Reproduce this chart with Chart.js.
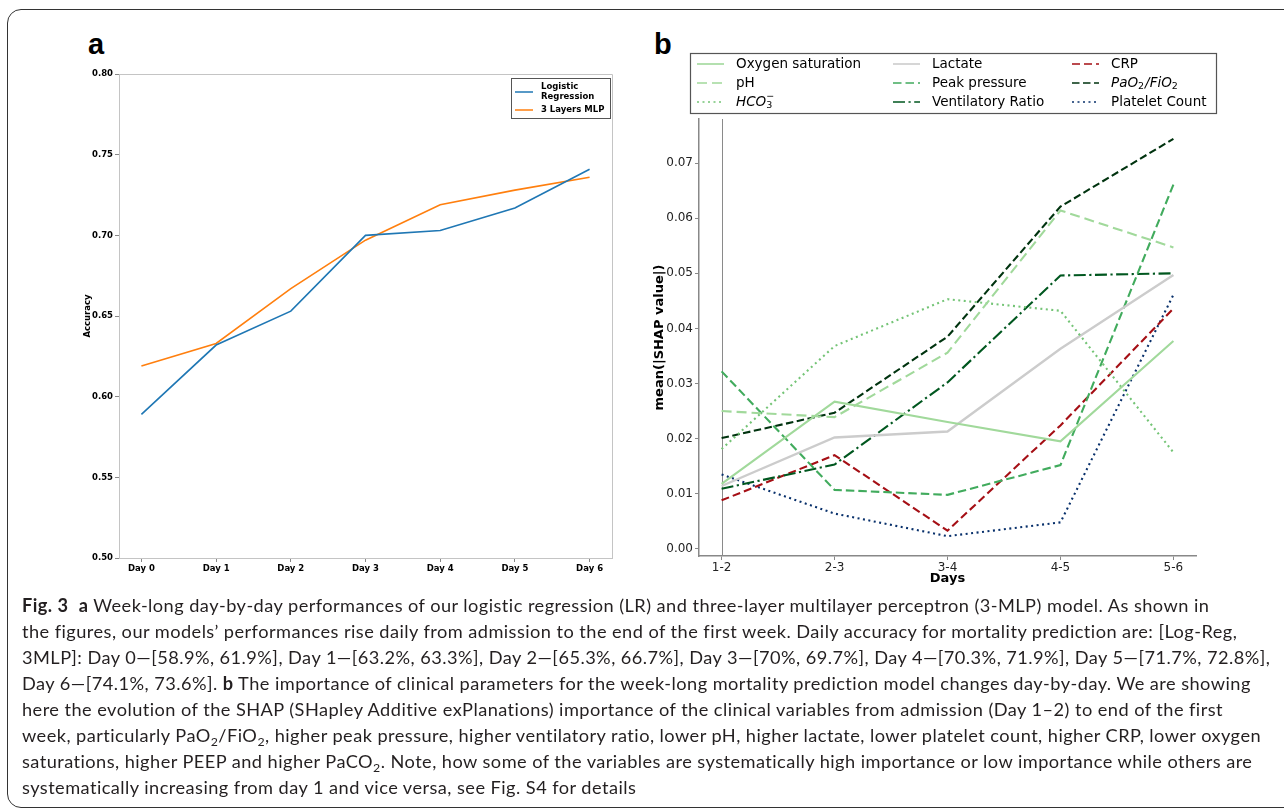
<!DOCTYPE html>
<html>
<head>
<meta charset="utf-8">
<script src="https://cdn.jsdelivr.net/npm/chart.js@4.4.1/dist/chart.umd.min.js"></script>
<style>
  body { margin: 0; background: #fff; width: 1284px; height: 812px; overflow: hidden; position: relative; }
  .frame { position: absolute; left: 7px; top: 9px; width: 1300px; height: 797px; border: 1px solid #333; border-radius: 14px; }
  .panel-tag { position: absolute; font-family: "Liberation Sans", Arial, sans-serif; font-weight: bold; font-size: 29px; color: #000; }
  canvas { position: absolute; }
  .caption { position: absolute; left: 22px; top: 592px; font-family: Lato, "Open Sans", sans-serif; font-size: 18.2px; letter-spacing: 0.45px; line-height: 26px; color: #231f20; }
  .caption div { white-space: nowrap; }
  .caption sub { font-size: 0.68em; vertical-align: -0.3em; line-height: 0; }
</style>
</head>
<body>
<div class="frame"></div>
<div class="panel-tag" style="left:88px; top:28px;">a</div>
<div class="panel-tag" style="left:654px; top:28px;">b</div>
<canvas id="chartA" width="560" height="520" style="left:60px; top:66px;"></canvas>
<canvas id="chartB" width="590" height="548" style="left:630px; top:48px;"></canvas>

<div class="caption">
  <div><b>Fig. 3</b>&nbsp; <b>a</b> Week-long day-by-day performances of our logistic regression (LR) and three-layer multilayer perceptron (3-MLP) model. As shown in</div>
  <div>the figures, our models’ performances rise daily from admission to the end of the first week. Daily accuracy for mortality prediction are: [Log-Reg,</div>
  <div>3MLP]: Day 0—[58.9%, 61.9%], Day 1—[63.2%, 63.3%], Day 2—[65.3%, 66.7%], Day 3—[70%, 69.7%], Day 4—[70.3%, 71.9%], Day 5—[71.7%, 72.8%],</div>
  <div>Day 6—[74.1%, 73.6%]. <b>b</b> The importance of clinical parameters for the week-long mortality prediction model changes day-by-day. We are showing</div>
  <div>here the evolution of the SHAP (SHapley Additive exPlanations) importance of the clinical variables from admission (Day 1–2) to end of the first</div>
  <div>week, particularly PaO<sub>2</sub>/FiO<sub>2</sub>, higher peak pressure, higher ventilatory ratio, lower pH, higher lactate, lower platelet count, higher CRP, lower oxygen</div>
  <div>saturations, higher PEEP and higher PaCO<sub>2</sub>. Note, how some of the variables are systematically high importance or low importance while others are</div>
  <div>systematically increasing from day 1 and vice versa, see Fig. S4 for details</div>
</div>

<script>
// panel a data
const days = ['Day 0', 'Day 1', 'Day 2', 'Day 3', 'Day 4', 'Day 5', 'Day 6'];
const accLR = [0.589, 0.632, 0.653, 0.700, 0.703, 0.717, 0.741];
const accMLP = [0.619, 0.633, 0.667, 0.697, 0.719, 0.728, 0.736];
const accTicks = [0.50, 0.55, 0.60, 0.65, 0.70, 0.75, 0.80];

// panel b data
const dayPairs = ['1-2', '2-3', '3-4', '4-5', '5-6'];
const oxygenSat = [0.0118, 0.0267, 0.0230, 0.0195, 0.0377];
const phVals = [0.0250, 0.0239, 0.0356, 0.0614, 0.0547];
const hco3 = [0.0181, 0.0368, 0.0453, 0.0432, 0.0175];
const lactate = [0.0114, 0.0202, 0.0213, 0.0363, 0.0497];
const peakPressure = [0.0322, 0.0107, 0.0098, 0.0152, 0.0661];
const ventRatio = [0.0109, 0.0153, 0.0302, 0.0496, 0.0500];
const crp = [0.0088, 0.0170, 0.0033, 0.0224, 0.0436];
const pafi = [0.0201, 0.0247, 0.0385, 0.0621, 0.0744];
const platelets = [0.0135, 0.0064, 0.0023, 0.0048, 0.0461];
const shapTicks = [0.00, 0.01, 0.02, 0.03, 0.04, 0.05, 0.06, 0.07];

const toPoints = arr => arr.map((v, i) => ({ x: i, y: v }));

const boldSmall = { family: 'DejaVu Sans', size: 8.5, weight: 'bold' };

// box on top/right of the chart area (matplotlib frame)
const framePlugin = {
  id: 'frame',
  beforeDatasetsDraw(chart, args, opts) {
    if (!opts.show) return;
    const { ctx, chartArea: a } = chart;
    ctx.save();
    ctx.strokeStyle = opts.color;
    ctx.lineWidth = 1;
    ctx.beginPath();
    ctx.moveTo(a.left, a.top + 0.5);
    ctx.lineTo(a.right + 0.5, a.top + 0.5);
    ctx.lineTo(a.right + 0.5, a.bottom);
    ctx.stroke();
    ctx.restore();
  }
};

const legendA = {
  id: 'legendA',
  afterDraw(chart) {
    const { ctx, chartArea: a } = chart;
    const w = 99, h = 40;
    const x = a.right - w - 2, y = a.top + 4;
    ctx.save();
    ctx.fillStyle = '#fff';
    ctx.fillRect(x, y, w, h);
    ctx.strokeStyle = '#555';
    ctx.lineWidth = 1;
    ctx.strokeRect(x + 0.5, y + 0.5, w, h);
    ctx.font = 'bold 8.5px "DejaVu Sans"';
    ctx.textBaseline = 'middle';
    ctx.fillStyle = '#000';
    const ds = chart.data.datasets;
    const rows = [[y + 14, ['Logistic', 'Regression']], [y + 32, ['3 Layers MLP']]];
    rows.forEach((r, i) => {
      ctx.strokeStyle = ds[i].borderColor;
      ctx.lineWidth = 1.5;
      ctx.beginPath();
      ctx.moveTo(x + 4, r[0]);
      ctx.lineTo(x + 22, r[0]);
      ctx.stroke();
      const lines = r[1];
      lines.forEach((t, k) => {
        ctx.fillText(t, x + 30, r[0] + (k - (lines.length - 1) / 2) * 10.5);
      });
    });
    ctx.restore();
  }
};

new Chart(document.getElementById('chartA'), {
  type: 'line',
  data: {
    datasets: [
      { label: 'Logistic Regression', data: toPoints(accLR), borderColor: '#1f77b4', borderWidth: 1.6, pointRadius: 0, tension: 0 },
      { label: '3 Layers MLP', data: toPoints(accMLP), borderColor: '#ff7f0e', borderWidth: 1.6, pointRadius: 0, tension: 0 }
    ]
  },
  options: {
    responsive: false,
    animation: false,
    layout: { padding: { top: 8, right: 8, left: 0, bottom: 0 } },
    plugins: { legend: { display: false }, tooltip: { enabled: false }, frame: { show: true, color: '#c4c4c4' } },
    scales: {
      x: {
        type: 'linear', min: -0.3, max: 6.3,
        afterBuildTicks: s => { s.ticks = days.map((d, i) => ({ value: i })); },
        afterFit: s => { s.height = 28; },
        ticks: { callback: v => days[v], font: boldSmall, color: '#000', padding: 2, autoSkip: false, maxRotation: 0 },
        grid: { drawOnChartArea: false, tickLength: 4, color: '#888' },
        border: { color: '#c4c4c4' }
      },
      y: {
        min: 0.5, max: 0.8,
        afterBuildTicks: s => { s.ticks = accTicks.map(v => ({ value: v })); },
        afterFit: s => { s.width = 59; },
        ticks: { callback: v => v.toFixed(2), font: boldSmall, color: '#000', padding: 2 },
        grid: { drawOnChartArea: false, tickLength: 4, color: '#888' },
        border: { color: '#c4c4c4' },
        title: { display: true, text: 'Accuracy', font: boldSmall, color: '#000', padding: { top: 23, bottom: 0 } }
      }
    }
  },
  plugins: [framePlugin, legendA]
});

// panel b
const shapSeries = [
  { label: 'Oxygen saturation', data: oxygenSat, color: '#a1d99b', dash: [] },
  { label: 'pH', data: phVals, color: '#a1d99b', dash: [10, 5] },
  { label: 'HCO3-', data: hco3, color: '#74c476', dash: [2, 3.5] },
  { label: 'Lactate', data: lactate, color: '#cccccc', dash: [] },
  { label: 'Peak pressure', data: peakPressure, color: '#41ab5d', dash: [8.5, 4] },
  { label: 'Ventilatory Ratio', data: ventRatio, color: '#00571f', dash: [12, 3.5, 2.2, 3.5] },
  { label: 'CRP', data: crp, color: '#a50f15', dash: [8, 4] },
  { label: 'PaO2/FiO2', data: pafi, color: '#00330f', dash: [7.5, 3.5] },
  { label: 'Platelet Count', data: platelets, color: '#08306b', dash: [2, 3.5] }
];

// mathtext-like pieces for the legend
const richLabels = {
  'HCO3-': [{ t: 'HCO', it: true }, { t: '3', sub: true, sup: '\u2212' }],
  'PaO2/FiO2': [{ t: 'PaO', it: true }, { t: '2', sub: true }, { t: '/FiO', it: true }, { t: '2', sub: true }]
};

const vlinePlugin = {
  id: 'vline',
  beforeDatasetsDraw(chart) {
    const { ctx, chartArea: a, scales } = chart;
    const px = Math.round(scales.x.getPixelForValue(0)) + 0.5;
    ctx.save();
    ctx.strokeStyle = '#8a8a8a';
    ctx.lineWidth = 1;
    ctx.beginPath();
    ctx.moveTo(px, a.top);
    ctx.lineTo(px, a.bottom);
    ctx.stroke();
    ctx.restore();
  }
};

const legendB = {
  id: 'legendB',
  afterDraw(chart) {
    const { ctx } = chart;
    const bx = 60, by = 5, bw = 526, bh = 60;
    const cols = [67, 263, 442];
    const rows = [by + 11, by + 30, by + 49];
    ctx.save();
    ctx.strokeStyle = '#555';
    ctx.lineWidth = 1.2;
    ctx.strokeRect(bx + 0.5, by + 0.5, bw, bh);
    ctx.textBaseline = 'middle';
    chart.data.datasets.forEach((ds, i) => {
      const cx = cols[Math.floor(i / 3)], cy = rows[i % 3];
      ctx.strokeStyle = ds.borderColor;
      ctx.lineWidth = 1.6;
      ctx.setLineDash(ds.borderDash || []);
      ctx.beginPath();
      ctx.moveTo(cx, cy);
      ctx.lineTo(cx + 27, cy);
      ctx.stroke();
      ctx.setLineDash([]);
      ctx.fillStyle = '#000';
      let tx = cx + 39;
      const parts = richLabels[ds.label];
      if (!parts) {
        ctx.font = '13.5px "DejaVu Sans"';
        ctx.fillText(ds.label, tx, cy);
        return;
      }
      parts.forEach(p => {
        if (p.sub) {
          ctx.font = '9.5px "DejaVu Sans"';
          ctx.fillText(p.t, tx, cy + 4);
          let wsub = ctx.measureText(p.t).width;
          if (p.sup) {
            ctx.fillText(p.sup, tx, cy - 5);
            wsub = Math.max(wsub, ctx.measureText(p.sup).width);
          }
          tx += wsub + 1;
        } else {
          ctx.font = 'italic 13.5px "DejaVu Sans"';
          ctx.fillText(p.t, tx, cy);
          tx += ctx.measureText(p.t).width;
        }
      });
    });
    ctx.restore();
  }
};

const tickFontB = { family: 'DejaVu Sans', size: 12 };
const titleFontB = { family: 'DejaVu Sans', size: 13, weight: 'bold' };

new Chart(document.getElementById('chartB'), {
  type: 'line',
  data: {
    datasets: shapSeries.map(s => ({
      label: s.label,
      data: toPoints(s.data),
      borderColor: s.color,
      borderDash: s.dash,
      borderWidth: s.label === 'Lactate' ? 2.4 : 2.1,
      pointRadius: 0,
      tension: 0
    }))
  },
  options: {
    responsive: false,
    animation: false,
    layout: { padding: { top: 71, right: 24, left: 0, bottom: 0 } },
    plugins: { legend: { display: false }, tooltip: { enabled: false } },
    scales: {
      x: {
        type: 'linear', min: -0.2, max: 4.2,
        afterBuildTicks: s => { s.ticks = dayPairs.map((d, i) => ({ value: i })); },
        afterFit: s => { s.height = 40; },
        ticks: { callback: v => dayPairs[v], font: tickFontB, color: '#222', padding: 1, autoSkip: false, maxRotation: 0 },
        grid: { drawOnChartArea: false, tickLength: 4, color: '#888' },
        border: { color: '#888', width: 1.5 },
        title: { display: true, text: 'Days', font: titleFontB, color: '#000', padding: { top: 0, bottom: 10 } }
      },
      y: {
        min: -0.0013, max: 0.078,
        afterBuildTicks: s => { s.ticks = shapTicks.map(v => ({ value: v })); },
        afterFit: s => { s.width = 69; },
        ticks: { callback: v => v.toFixed(2), font: tickFontB, color: '#222', padding: 2 },
        grid: { drawOnChartArea: false, tickLength: 4, color: '#888' },
        border: { color: '#888', width: 1.5 },
        title: { display: true, text: 'mean(|SHAP value|)', font: titleFontB, color: '#000', padding: { top: 22, bottom: 0 } }
      }
    }
  },
  plugins: [vlinePlugin, legendB]
});
</script>
</body>
</html>
